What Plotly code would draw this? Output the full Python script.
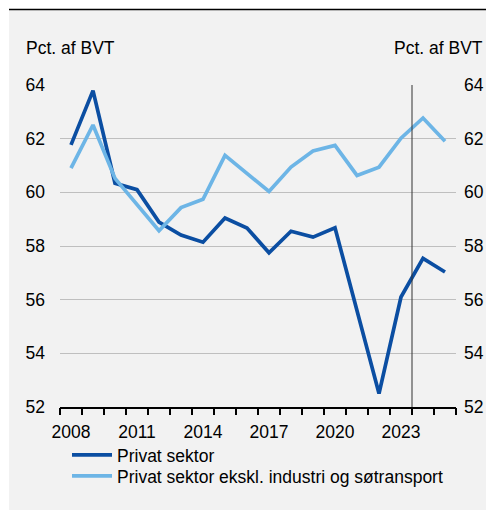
import plotly.graph_objects as go

years = list(range(2008, 2026))
privat = [61.77, 63.79, 60.34, 60.10, 58.89, 58.41, 58.14, 59.04, 58.67, 57.75,
          58.55, 58.33, 58.68, 55.57, 52.50, 56.10, 57.54, 57.03]
privat_ekskl = [60.90, 62.51, 60.52, 59.52, 58.57, 59.43, 59.74, 61.38, 60.70, 60.03,
                60.94, 61.54, 61.75, 60.63, 60.94, 62.02, 62.77, 61.90]
series_names = ["Privat sektor", "Privat sektor ekskl. industri og søtransport"]
x_tick_labels = [2008, 2011, 2014, 2017, 2020, 2023]
y_ticks = [52, 54, 56, 58, 60, 62, 64]
y_title = "Pct. af BVT"
divider_year = 2023.5

# the page has an 8px body margin; positions below are given in screen pixels
OFF = 8
W, H = 494, 510
L, R, T, B = 60 - OFF, 456 - OFF, 85 - OFF, 407 - OFF
FONT = "Liberation Sans, Arial, sans-serif"
FS = 17.5

def px(xs):
    return (xs - OFF - L) / (R - L)

def py(ys):
    return (B - (ys - OFF)) / (B - T)

fig = go.Figure()
fig.add_trace(go.Scatter(x=years, y=privat, mode="lines", name=series_names[0],
                         line=dict(color="#0B4EA2", width=3.7), legend="legend"))
fig.add_trace(go.Scatter(x=years, y=privat_ekskl, mode="lines", name=series_names[1],
                         line=dict(color="#6DB5E6", width=3.7), legend="legend2"))

xr = [years[0] - 0.5, years[-1] + 0.5]
boundaries = [y - 0.5 for y in years] + [years[-1] + 0.5]

leg_common = dict(xanchor="left", yanchor="top", bgcolor="rgba(0,0,0,0)",
                  font=dict(size=FS), itemwidth=40, borderwidth=0)

fig.update_layout(
    width=W, height=H,
    margin=dict(l=L, r=W - R, t=T, b=H - B, pad=0),
    paper_bgcolor="#F2F2F2",
    plot_bgcolor="rgba(0,0,0,0)",
    font=dict(family=FONT, size=FS, color="#000000"),
    showlegend=True,
    legend=dict(x=px(67), y=py(437), **leg_common),
    legend2=dict(x=px(67), y=py(458), **leg_common),
    xaxis=dict(range=xr, tickvals=x_tick_labels, ticks="", showgrid=False,
               zeroline=False, showline=True, linecolor="black", linewidth=1.5,
               ticklabelstandoff=8),
    xaxis2=dict(range=xr, overlaying="x", side="bottom", tickvals=boundaries,
                ticks="outside", ticklen=7, tickwidth=1.5, tickcolor="black",
                showticklabels=False, showgrid=False, zeroline=False, showline=False,
                anchor="y"),
    yaxis=dict(range=[52, 64], tickvals=y_ticks, ticks="", showgrid=True,
               gridcolor="#BFBFBF", gridwidth=1, zeroline=False, showline=False,
               ticklabelstandoff=14),
    yaxis2=dict(range=[52, 64], tickvals=y_ticks, ticks="", showgrid=False,
                overlaying="y", side="right", zeroline=False, showline=False,
                ticklabelstandoff=7, anchor="x"),
    shapes=[
        dict(type="rect", xref="paper", yref="paper", x0=px(0), x1=px(9),
             y0=py(0), y1=py(H + 40), fillcolor="white", line=dict(width=0),
             layer="below"),
        dict(type="rect", xref="paper", yref="paper", x0=px(0), x1=px(W + 40),
             y0=py(0), y1=py(9), fillcolor="white", line=dict(width=0),
             layer="below"),
        dict(type="line", xref="paper", yref="paper", x0=px(9), x1=px(W + 40),
             y0=py(9.5), y1=py(9.5), line=dict(color="black", width=1.5)),
        dict(type="line", xref="x", yref="y", x0=divider_year, x1=divider_year,
             y0=52, y1=64, line=dict(color="#333333", width=1)),
    ],
    annotations=[
        dict(text=y_title, xref="paper", yref="paper", x=px(24), y=py(48),
             xanchor="left", yanchor="middle", showarrow=False, font=dict(size=FS)),
        dict(text=y_title, xref="paper", yref="paper", x=px(485), y=py(48),
             xanchor="right", yanchor="middle", showarrow=False, font=dict(size=FS)),
    ],
)
# invisible trace to activate the overlay axes
fig.add_trace(go.Scatter(x=[years[0]], y=[privat[0]], xaxis="x2", yaxis="y2",
                         mode="markers", marker=dict(opacity=0), showlegend=False,
                         hoverinfo="skip"))

fig.write_html("out.html")
